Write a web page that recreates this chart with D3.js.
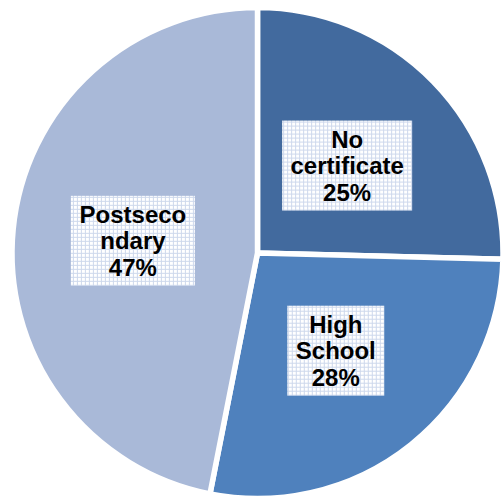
<!DOCTYPE html>
<html>
<head>
<meta charset="utf-8">
<script src="https://cdn.jsdelivr.net/npm/d3@7"></script>
<style>
  body { margin: 0; background: #fff; }
  svg { display: block; }
</style>
</head>
<body>
<script>
var categories = ['No certificate', 'High School', 'Postsecondary'];
var values = [25.4, 27.7, 46.9];
var pctLabels = ['25%', '28%', '47%'];
var labelLines = [['No', 'certificate'], ['High', 'School'], ['Postseco', 'ndary']];
var colors = ['#426A9E', '#4F81BD', '#A9B9D8'];

var width = 503, height = 500;
var cx = 257.5, cy = 253, radius = 245.5;

var data = categories.map(function(c, i) {
  return { name: c, value: values[i], pct: pctLabels[i], lines: labelLines[i], color: colors[i] };
});

var svg = d3.select('body').append('svg')
  .attr('width', width)
  .attr('height', height);

// light grid pattern used behind the data labels
var defs = svg.append('defs');
var pat = defs.append('pattern')
  .attr('id', 'grid')
  .attr('width', 4)
  .attr('height', 4)
  .attr('patternUnits', 'userSpaceOnUse');
pat.append('rect').attr('width', 4).attr('height', 4).attr('fill', '#ffffff');
pat.append('rect').attr('x', 0).attr('y', 0).attr('width', 1).attr('height', 4).attr('fill', '#cdd8ec');
pat.append('rect').attr('x', 0).attr('y', 0).attr('width', 4).attr('height', 1).attr('fill', '#cdd8ec');

var g = svg.append('g')
  .attr('transform', 'translate(' + cx + ',' + cy + ')');

var pie = d3.pie().sort(null).value(function(d) { return d.value; });
var arcs = pie(data);

var arc = d3.arc().innerRadius(0).outerRadius(radius);

g.selectAll('path.slice')
  .data(arcs)
  .enter()
  .append('path')
  .attr('class', 'slice')
  .attr('d', arc)
  .attr('fill', function(d) { return d.data.color; })
  .attr('stroke', '#ffffff')
  .attr('stroke-width', 5.5)
  .attr('stroke-linejoin', 'miter');

// label boxes sit on the slice bisector, about half way out
var labelArc = d3.arc().innerRadius(radius * 0.51).outerRadius(radius * 0.51);
var boxW = [130, 97, 124];
var boxH = 90;
var fontSize = 24, lineGap = 26.5;

var labels = g.selectAll('g.lbl')
  .data(arcs)
  .enter()
  .append('g')
  .attr('class', 'lbl')
  .attr('transform', function(d) {
    var c = labelArc.centroid(d);
    return 'translate(' + c[0] + ',' + c[1] + ')';
  });

labels.append('rect')
  .attr('x', function(d, i) { return -boxW[i] / 2; })
  .attr('y', -boxH / 2)
  .attr('width', function(d, i) { return boxW[i]; })
  .attr('height', boxH)
  .attr('fill', 'url(#grid)');

labels.each(function(d) {
  var sel = d3.select(this);
  var lines = d.data.lines.concat([d.data.pct]);
  var top = -((lines.length - 1) * lineGap) / 2 + fontSize * 0.36;
  lines.forEach(function(t, k) {
    sel.append('text')
      .attr('x', 0)
      .attr('y', top + k * lineGap)
      .attr('text-anchor', 'middle')
      .attr('font-family', 'Liberation Sans, Arial, sans-serif')
      .attr('font-weight', 'bold')
      .attr('font-size', fontSize)
      .attr('fill', '#000')
      .text(t);
  });
});
</script>
</body>
</html>
